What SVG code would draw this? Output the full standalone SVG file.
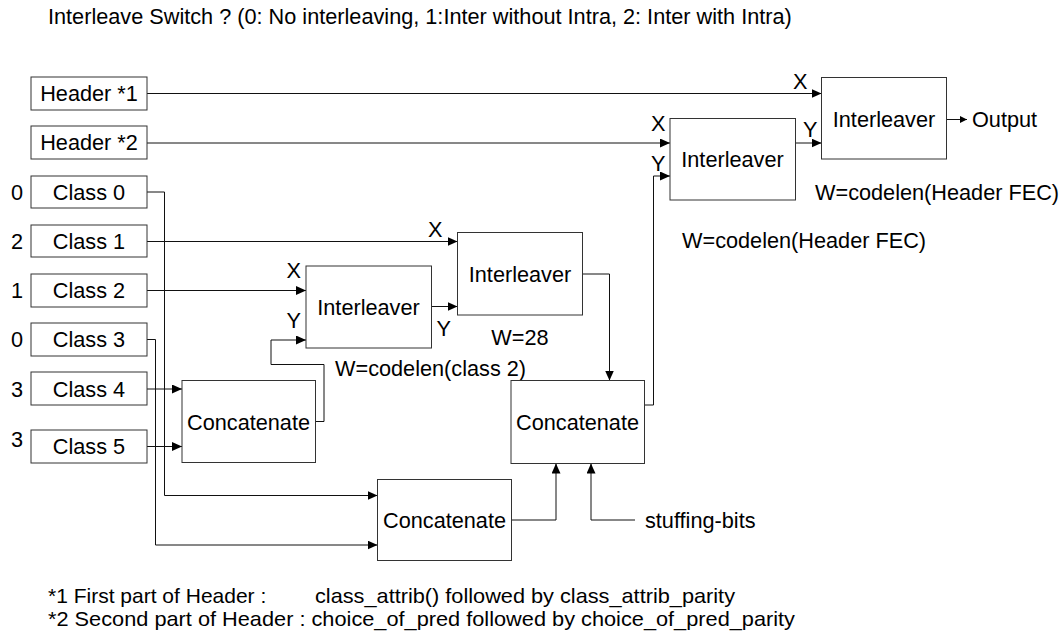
<svg xmlns="http://www.w3.org/2000/svg" width="1064" height="637" viewBox="0 0 1064 637">
  <style>
    text { font-family: "Liberation Sans", Arial, sans-serif; font-size: 21.7px; fill: #000; }
    .c { text-anchor: middle; }
    .note { font-size: 21px; }
    .box { fill: #fff; stroke: #333; stroke-width: 1; }
    .wire { fill: none; stroke: #111; stroke-width: 1; }
  </style>
  <defs>
    <marker id="arr" viewBox="0 0 10 9" refX="10" refY="4.5" markerWidth="10" markerHeight="9" markerUnits="userSpaceOnUse" orient="auto">
      <path d="M0,0 L10,4.5 L0,9 Z" fill="#000"/>
    </marker>
    <marker id="arrS" viewBox="0 0 7 7" refX="7" refY="3.5" markerWidth="7" markerHeight="7" markerUnits="userSpaceOnUse" orient="auto">
      <path d="M0,0 L7,3.5 L0,7 Z" fill="#000"/>
    </marker>
  </defs>

  <text x="48" y="24">Interleave Switch ? (0: No interleaving, 1:Inter without Intra, 2: Inter with Intra)</text>

  <!-- connectors -->
  <g id="connectors">
    <path class="wire" d="M147,93.5 H821.5" marker-end="url(#arr)"/>
    <path class="wire" d="M147,143 H670" marker-end="url(#arr)"/>
    <path class="wire" d="M795.5,143 H821.5" marker-end="url(#arr)"/>
    <path class="wire" d="M147,192 H164.5 V495.5 H377.5" marker-end="url(#arr)"/>
    <path class="wire" d="M147,241.5 H457.5" marker-end="url(#arr)"/>
    <path class="wire" d="M147,290.5 H306" marker-end="url(#arr)"/>
    <path class="wire" d="M147,339.5 H155.5 V545 H377.5" marker-end="url(#arr)"/>
    <path class="wire" d="M147,389 H182" marker-end="url(#arr)"/>
    <path class="wire" d="M147,446.5 H182" marker-end="url(#arr)"/>
    <path class="wire" d="M315.5,421.5 H324 V364.5 H271 V340 H306" marker-end="url(#arr)"/>
    <path class="wire" d="M431.5,306.5 H457.5" marker-end="url(#arr)"/>
    <path class="wire" d="M582.5,274 H609.5 V380.5" marker-end="url(#arr)"/>
    <path class="wire" d="M644.5,405 H653.5 V176 H670" marker-end="url(#arr)"/>
    <path class="wire" d="M511.5,520 H556 V463.5" marker-end="url(#arr)"/>
    <path class="wire" d="M635,520 H591 V463.5" marker-end="url(#arr)"/>
    <path class="wire" d="M946.5,119.5 H967" marker-end="url(#arrS)"/>
  </g>

  <!-- sources -->
  <g id="header1"><rect class="box" x="31" y="77" width="116" height="33"/><text class="c" x="89" y="101">Header *1</text></g>
  <g id="header2"><rect class="box" x="31" y="126" width="116" height="33"/><text class="c" x="89" y="150">Header *2</text></g>
  <g id="class0"><text x="11" y="200">0</text><rect class="box" x="31" y="176" width="116" height="32"/><text class="c" x="89" y="200">Class 0</text></g>
  <g id="class1"><text x="11" y="249">2</text><rect class="box" x="31" y="225" width="116" height="32"/><text class="c" x="89" y="249">Class 1</text></g>
  <g id="class2"><text x="11" y="298">1</text><rect class="box" x="31" y="274" width="116" height="33"/><text class="c" x="89" y="298">Class 2</text></g>
  <g id="class3"><text x="11" y="347">0</text><rect class="box" x="31" y="323" width="116" height="33"/><text class="c" x="89" y="347">Class 3</text></g>
  <g id="class4"><text x="11" y="396.5">3</text><rect class="box" x="31" y="372" width="116" height="33"/><text class="c" x="89" y="396.5">Class 4</text></g>
  <g id="class5"><text x="11" y="446.5">3</text><rect class="box" x="31" y="430" width="116" height="33"/><text class="c" x="89" y="454">Class 5</text></g>

  <!-- processing blocks -->
  <g id="concat1"><rect class="box" x="182" y="380.5" width="133.5" height="82"/><text class="c" x="248.5" y="429.5">Concatenate</text></g>
  <g id="interleaver1">
    <rect class="box" x="306" y="266" width="125.5" height="82"/><text class="c" x="368.5" y="314.5">Interleaver</text>
    <text x="286.5" y="278">X</text><text x="286.5" y="328">Y</text><text x="436.5" y="336">Y</text>
    <text x="335" y="376">W=codelen(class 2)</text>
  </g>
  <g id="interleaver2">
    <rect class="box" x="457.5" y="232.5" width="125" height="82.5"/><text class="c" x="520" y="282">Interleaver</text>
    <text x="428" y="237">X</text>
    <text class="c" x="520" y="345">W=28</text>
  </g>
  <g id="concat2"><rect class="box" x="511" y="380.5" width="133.5" height="83"/><text class="c" x="577.5" y="429.5">Concatenate</text></g>
  <g id="concat3"><rect class="box" x="377.5" y="479.5" width="134" height="81"/><text class="c" x="444.5" y="528">Concatenate</text></g>
  <g id="stuffing"><text x="645" y="527.5">stuffing-bits</text></g>
  <g id="interleaver3">
    <rect class="box" x="670" y="118.5" width="125.5" height="81.5"/><text class="c" x="732.5" y="167">Interleaver</text>
    <text x="651" y="131">X</text><text x="651" y="171">Y</text>
    <text x="682" y="248">W=codelen(Header FEC)</text>
  </g>
  <g id="interleaver4">
    <rect class="box" x="821.5" y="77.5" width="125" height="81.5"/><text class="c" x="884" y="126.5">Interleaver</text>
    <text x="793" y="89">X</text><text x="803" y="137">Y</text>
    <text x="815" y="200">W=codelen(Header FEC)</text>
  </g>
  <g id="output"><text x="972" y="127">Output</text></g>

  <!-- footnotes -->
  <text class="note" x="48" y="603">*1 First part of Header :</text>
  <text class="note" x="315" y="603" textLength="420" lengthAdjust="spacingAndGlyphs">class_attrib() followed by class_attrib_parity</text>
  <text class="note" x="48" y="626" textLength="747" lengthAdjust="spacingAndGlyphs">*2 Second part of Header : choice_of_pred followed by choice_of_pred_parity</text>
</svg>
